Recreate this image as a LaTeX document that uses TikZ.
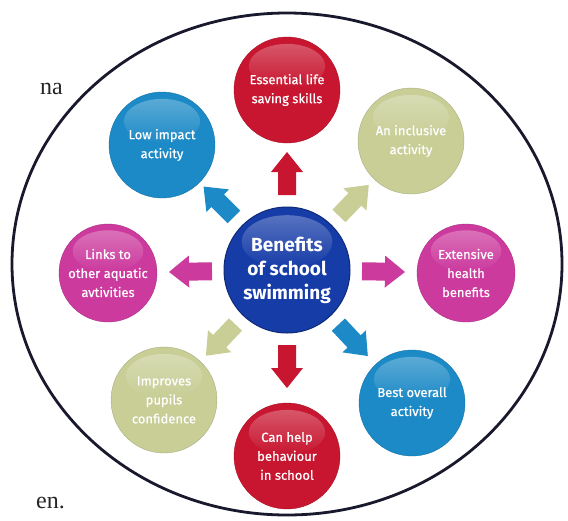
\documentclass[tikz,border=0pt]{standalone}
\usepackage{fontspec}
\setsansfont{Fira Sans}
\setmainfont{Liberation Serif}
\newfontfamily\satfont{Fira Sans}[FakeBold=0.6]
\usetikzlibrary{fadings,calc}
\definecolor{cred}{RGB}{200,22,48}
\definecolor{cblue}{RGB}{28,138,198}
\definecolor{colive}{RGB}{200,206,150}
\definecolor{cpink}{RGB}{204,58,158}
\definecolor{cnavy}{RGB}{22,60,168}
\definecolor{cring}{RGB}{25,25,45}
\tikzset{
  bubble/.style={circle, minimum size=106pt, inner sep=0pt, align=center,
    text=white, font=\satfont\fontsize{13}{19}\selectfont},
  hub/.style={circle, minimum size=126pt, inner sep=0pt, align=center,
    text=white, font=\sffamily\bfseries\fontsize{19}{24}\selectfont,
    fill=cnavy, draw=cnavy!70!black, line width=1pt},
  pagetext/.style={font=\rmfamily\fontsize{24}{26}\selectfont, text=black!85, inner sep=0pt}
}
\newcommand{\gloss}[2]{%
  \fill[white, fill opacity=0.28, path fading=south] ($(#1)+(0,-#2*0.45)$) ellipse ({#2*0.72} and {#2*0.42});}
\begin{document}
\begin{tikzpicture}[x=1pt,y=-1pt]
\useasboundingbox (0,0) rectangle (568,520);
\fill[white] (0,0) rectangle (568,520);
% page fragments
\node[pagetext, anchor=base west] (na) at (40,94) {na};
\node[pagetext, anchor=base west] (en) at (36,508) {en.};
% outer ring
\draw[cring, line width=2.8pt] (287,264) ellipse (275 and 251);
% hub
\node[hub] (c) at (287,270) {Benefits\\of school\\swimming};
\gloss{c}{63}
% satellites
\node[bubble, fill=cred, draw=cred!85!black] (t) at (287,90) {Essential life\\saving skills};
\node[bubble, fill=cblue, draw=cblue!85!black] (tl) at (162,145) {Low impact\\activity};
\node[bubble, fill=colive, draw=colive!85!black] (tr) at (411,141) {An inclusive\\activity};
\node[bubble, fill=cpink, draw=cpink!85!black, minimum size=98pt] (l) at (108,273) {Links to\\other aquatic\\avtivities};
\node[bubble, fill=cpink, draw=cpink!85!black, minimum size=98pt] (r) at (466,273) {Extensive\\health\\benefits};
\node[bubble, fill=colive, draw=colive!85!black] (bl) at (164,400) {Improves\\pupils\\confidence};
\node[bubble, fill=cred, draw=cred!85!black] (b) at (287,456) {Can help\\behaviour\\in school};
\node[bubble, fill=cblue, draw=cblue!85!black] (br) at (412,403) {Best overall\\activity};
\foreach \n/\r in {t/53,tl/53,tr/53,l/49,r/49,bl/53,b/53,br/53}{\gloss{\n}{\r}}
% block arrows
\foreach \s/\col in {t/cred,tl/cblue,tr/colive,l/cpink,r/cpink,bl/colive,b/cred,br/cblue}{
  \path let \p1=($(\s)-(c)$), \n1={atan2(-\y1,\x1)} in
    [fill=\col] ($(c)+(\n1:75)+(\n1+90:9)$) -- ($(c)+(\n1:98)+(\n1+90:9)$)
    -- ($(c)+(\n1:98)+(\n1+90:16)$) -- ($(c)+(\n1:118)$)
    -- ($(c)+(\n1:98)+(\n1-90:16)$) -- ($(c)+(\n1:98)+(\n1-90:9)$)
    -- ($(c)+(\n1:75)+(\n1-90:9)$) -- cycle;
}
\end{tikzpicture}
\end{document}
